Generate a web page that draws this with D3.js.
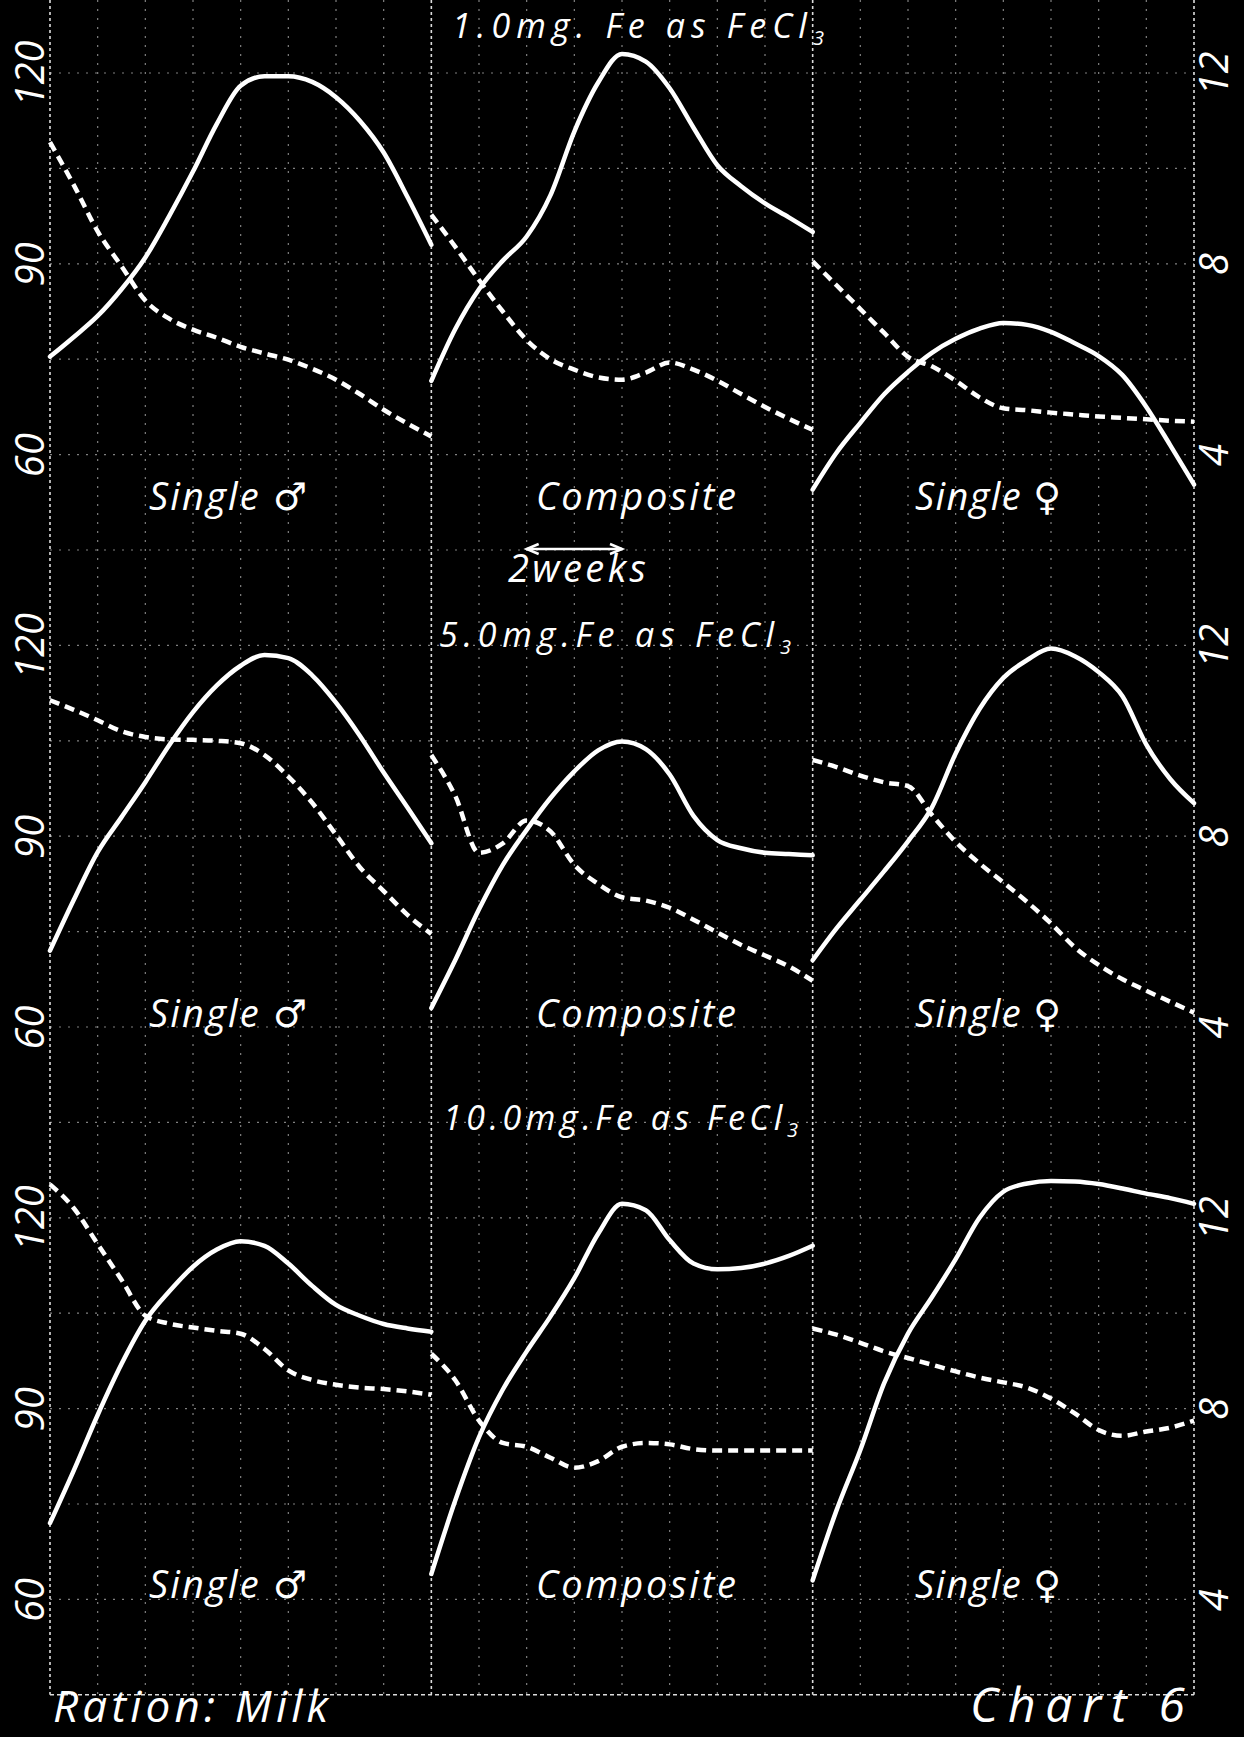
<!DOCTYPE html>
<html>
<head>
<meta charset="utf-8">
<script src="https://cdn.jsdelivr.net/npm/d3@7"></script>
<style>
  html, body { margin: 0; padding: 0; background: #000; }
  svg { display: block; }
  text { font-family: "Open Sans", "DejaVu Sans", sans-serif; font-style: italic; font-weight: 400; fill: #fff; }
</style>
</head>
<body>
<svg id="chart"></svg>
<script>
// x values: weeks inside each 8-week panel
var weeks = [0, 0.5, 1, 1.5, 2, 2.5, 3, 3.5, 4, 4.5, 5, 5.5, 6, 6.5, 7, 7.5, 8];

var panelNames = ['Single ♂', 'Composite', 'Single ♀'];
var doseTitles = ['1.0mg. Fe as FeCl', '5.0mg.Fe as FeCl', '10.0mg.Fe as FeCl'];
var leftTicks = [60, 90, 120];
var rightTicks = [4, 8, 12];

// solid lines read on the left scale (60-120), dashed on the right scale (4-12)
// 1.0 mg Fe
var solid1Male = [75.4, 78.5, 81.8, 86, 91, 97.5, 104.5, 112, 118, 119.5, 119.5, 118.6, 116.2, 112.5, 107.5, 100.5, 93];
var dashed1Male = [10.55, 9.65, 8.68, 7.95, 7.23, 6.85, 6.62, 6.45, 6.26, 6.12, 5.99, 5.8, 5.57, 5.27, 4.94, 4.65, 4.38];
var solid1Comp = [71.6, 79.7, 86, 90.5, 94.3, 100.8, 110.8, 118.5, 123, 121.8, 117.6, 111.4, 105.5, 102.2, 99.5, 97.3, 95];
var dashed1Comp = [9.03, 8.36, 7.66, 7.0, 6.4, 6.0, 5.78, 5.62, 5.57, 5.72, 5.93, 5.78, 5.55, 5.27, 5.0, 4.75, 4.52];
var solid1Fem = [54.5, 60.3, 65, 69.5, 73, 76, 78.2, 79.8, 80.7, 80.4, 79.3, 77.5, 75.5, 72.5, 67.5, 61.5, 55.3];
var dashed1Fem = [8.05, 7.55, 7.05, 6.55, 6.05, 5.85, 5.55, 5.2, 4.97, 4.93, 4.88, 4.84, 4.8, 4.77, 4.74, 4.71, 4.69];
// 5.0 mg Fe
var solid5Male = [72, 80, 87.5, 93, 98.5, 104.3, 109.5, 113.7, 116.8, 118.5, 118, 115.3, 111, 105.8, 100, 94.5, 88.9];
var dashed5Male = [10.85, 10.65, 10.43, 10.2, 10.08, 10.03, 10.02, 10.0, 9.95, 9.7, 9.25, 8.7, 8.03, 7.35, 6.85, 6.35, 5.95];
var solid5Comp = [63, 70.5, 78.5, 85.5, 91, 96, 100.2, 103.5, 104.9, 103.7, 99.7, 93.2, 89.4, 88.1, 87.4, 87.2, 87];
var dashed5Comp = [9.7, 8.85, 7.65, 7.85, 8.33, 8.1, 7.4, 7.0, 6.72, 6.65, 6.5, 6.25, 5.98, 5.72, 5.5, 5.27, 4.97];
var solid5Fem = [70.5, 75.5, 80, 84.5, 89.2, 94.5, 103, 110, 114.9, 117.7, 119.5, 118.3, 115.8, 112, 104.4, 99, 95.2];
var dashed5Fem = [9.6, 9.45, 9.27, 9.13, 9.05, 8.45, 7.88, 7.43, 7.03, 6.62, 6.17, 5.67, 5.3, 5.0, 4.76, 4.53, 4.3];
// 10.0 mg Fe
var solid10Male = [72, 80.3, 89, 97, 103.8, 108.4, 112.3, 115, 116.3, 115.6, 112.8, 109.3, 106.3, 104.6, 103.3, 102.6, 102.1];
var dashed10Male = [12.7, 12.2, 11.45, 10.7, 9.95, 9.78, 9.7, 9.63, 9.57, 9.25, 8.8, 8.6, 8.5, 8.44, 8.41, 8.36, 8.29];
var solid10Comp = [64, 75.5, 85.5, 93, 99, 104.5, 110.5, 117.5, 122.2, 121.2, 116.5, 112.8, 111.9, 112.1, 112.8, 114, 115.6];
var dashed10Comp = [9.15, 8.6, 7.75, 7.28, 7.2, 6.97, 6.76, 6.9, 7.2, 7.28, 7.25, 7.15, 7.12, 7.12, 7.12, 7.12, 7.12];
var solid10Fem = [63, 74, 83.5, 94, 101.8, 107.5, 113.5, 120, 124.1, 125.4, 125.8, 125.7, 125.3, 124.6, 123.8, 123.1, 122.2];
var dashed10Fem = [9.68, 9.55, 9.38, 9.2, 9.06, 8.92, 8.78, 8.65, 8.55, 8.44, 8.21, 7.9, 7.55, 7.43, 7.52, 7.6, 7.75];

var bands = [
  { title: doseTitles[0], solid: [solid1Male, solid1Comp, solid1Fem], dashed: [dashed1Male, dashed1Comp, dashed1Fem] },
  { title: doseTitles[1], solid: [solid5Male, solid5Comp, solid5Fem], dashed: [dashed5Male, dashed5Comp, dashed5Fem] },
  { title: doseTitles[2], solid: [solid10Male, solid10Comp, solid10Fem], dashed: [dashed10Male, dashed10Comp, dashed10Fem] }
];

// layout
var width = 1244, height = 1737;
var left = 50, right = 1194;
var top0 = 73, gridStep = 95.4, bandStep = 6 * gridStep, bandH = 4 * gridStep;
var panelW = (right - left) / 3;
var bottomLine = top0 + 17 * gridStep;

var titlePos = [{ x: 452, y: 38, len: 372 }, { x: 439, y: 647, len: 352 }, { x: 443, y: 1130, len: 355 }];
var labelY = [510, 1027, 1598];
var labelX = [228, 636, 988];
var labelLen = [158, 200, 146];

var svg = d3.select('#chart').attr('width', width).attr('height', height);
svg.append('rect').attr('width', width).attr('height', height).attr('fill', '#000');

// graph paper grid
var xGrid = d3.scaleLinear().domain([0, 24]).range([left, right]);
var yGrid = d3.scaleLinear().domain([0, 17]).range([top0, bottomLine]);

var grid = svg.append('g');
grid.selectAll('.hg')
  .data(d3.range(0, 17))
  .enter().append('line')
    .attr('x1', left).attr('x2', right)
    .attr('y1', d => yGrid(d)).attr('y2', d => yGrid(d))
    .attr('stroke', '#808080').attr('stroke-width', 1.2)
    .attr('stroke-dasharray', '2,7');
grid.selectAll('.vg')
  .data(d3.range(0, 25))
  .enter().append('line')
    .attr('x1', d => xGrid(d)).attr('x2', d => xGrid(d))
    .attr('y1', 0).attr('y2', bottomLine)
    .attr('stroke', d => d % 8 === 0 ? '#dcdcdc' : '#808080')
    .attr('stroke-width', d => d % 8 === 0 ? 1.6 : 1.2)
    .attr('stroke-dasharray', d => d % 8 === 0 ? '3,3' : '2,7');
grid.append('line')
  .attr('x1', left).attr('x2', right)
  .attr('y1', bottomLine).attr('y2', bottomLine)
  .attr('stroke', '#dcdcdc').attr('stroke-width', 1.6)
  .attr('stroke-dasharray', '4,3');

bands.forEach(function (band, b) {
  var bandTop = top0 + b * bandStep;
  var yL = d3.scaleLinear().domain([60, 120]).range([bandTop + bandH, bandTop]);
  var yR = d3.scaleLinear().domain([4, 12]).range([bandTop + bandH, bandTop]);

  // axes with rotated hand-lettered numbers
  svg.append('g')
    .attr('transform', 'translate(' + left + ',0)')
    .call(d3.axisLeft(yL).tickValues(leftTicks).tickSize(0).tickPadding(0))
    .attr('font-size', 40)
    .call(g => g.select('.domain').remove())
    .selectAll('text')
      .attr('x', 0).attr('dy', '0.36em')
      .attr('text-anchor', 'middle')
      .attr('transform', 'translate(-20,0) rotate(-90)');

  svg.append('g')
    .attr('transform', 'translate(' + right + ',0)')
    .call(d3.axisRight(yR).tickValues(rightTicks).tickSize(0).tickPadding(0))
    .attr('font-size', 40)
    .call(g => g.select('.domain').remove())
    .selectAll('text')
      .attr('x', 0).attr('dy', '0.36em')
      .attr('text-anchor', 'middle')
      .attr('transform', 'translate(20,0) rotate(-90)');

  // dose title
  var t = svg.append('text')
    .attr('x', titlePos[b].x).attr('y', titlePos[b].y)
    .attr('font-size', 34)
    .attr('textLength', titlePos[b].len)
    .attr('lengthAdjust', 'spacing')
    .text(band.title);
  t.append('tspan').attr('dy', 7).attr('font-size', 20).text('3');

  panelNames.forEach(function (name, p) {
    var x = d3.scaleLinear().domain([0, 8]).range([left + p * panelW, left + (p + 1) * panelW]);

    var solidLine = d3.line()
      .x((d, i) => x(weeks[i]))
      .y(d => yL(d))
      .curve(d3.curveMonotoneX);
    var dashedLine = d3.line()
      .x((d, i) => x(weeks[i]))
      .y(d => yR(d))
      .curve(d3.curveMonotoneX);

    svg.append('path')
      .datum(band.solid[p])
      .attr('d', solidLine)
      .attr('fill', 'none')
      .attr('stroke', '#fff')
      .attr('stroke-width', 4.5)
      .attr('stroke-linecap', 'round');

    svg.append('path')
      .datum(band.dashed[p])
      .attr('d', dashedLine)
      .attr('fill', 'none')
      .attr('stroke', '#fff')
      .attr('stroke-width', 4.5)
      .attr('stroke-dasharray', '10,6');

    svg.append('text')
      .attr('x', labelX[p]).attr('y', labelY[b])
      .attr('text-anchor', 'middle')
      .attr('font-size', 38)
      .attr('textLength', labelLen[p])
      .attr('lengthAdjust', 'spacing')
      .text(name);
  });
});

// "2 weeks" scale arrow, spanning two weeks of the composite panel
var xc = d3.scaleLinear().domain([0, 8]).range([left + panelW, left + 2 * panelW]);
var arrowY = 549, ax1 = xc(2), ax2 = xc(4);
var arrow = svg.append('g').attr('stroke', '#fff').attr('stroke-width', 2.5).attr('fill', 'none');
arrow.append('line').attr('x1', ax1).attr('x2', ax2).attr('y1', arrowY).attr('y2', arrowY);
arrow.append('path').attr('d', 'M' + (ax1 + 12) + ',' + (arrowY - 5) + 'L' + ax1 + ',' + arrowY + 'L' + (ax1 + 12) + ',' + (arrowY + 5));
arrow.append('path').attr('d', 'M' + (ax2 - 12) + ',' + (arrowY - 5) + 'L' + ax2 + ',' + arrowY + 'L' + (ax2 - 12) + ',' + (arrowY + 5));
svg.append('text')
  .attr('x', 508).attr('y', 582)
  .attr('font-size', 38)
  .attr('textLength', 138)
  .attr('lengthAdjust', 'spacing')
  .text('2weeks');

// footer
svg.append('text')
  .attr('x', 53).attr('y', 1722)
  .attr('font-size', 44)
  .attr('textLength', 275)
  .attr('lengthAdjust', 'spacing')
  .text('Ration: Milk');
svg.append('text')
  .attr('x', 970).attr('y', 1722)
  .attr('font-size', 48)
  .attr('textLength', 215)
  .attr('lengthAdjust', 'spacing')
  .text('Chart 6');
</script>
</body>
</html>
